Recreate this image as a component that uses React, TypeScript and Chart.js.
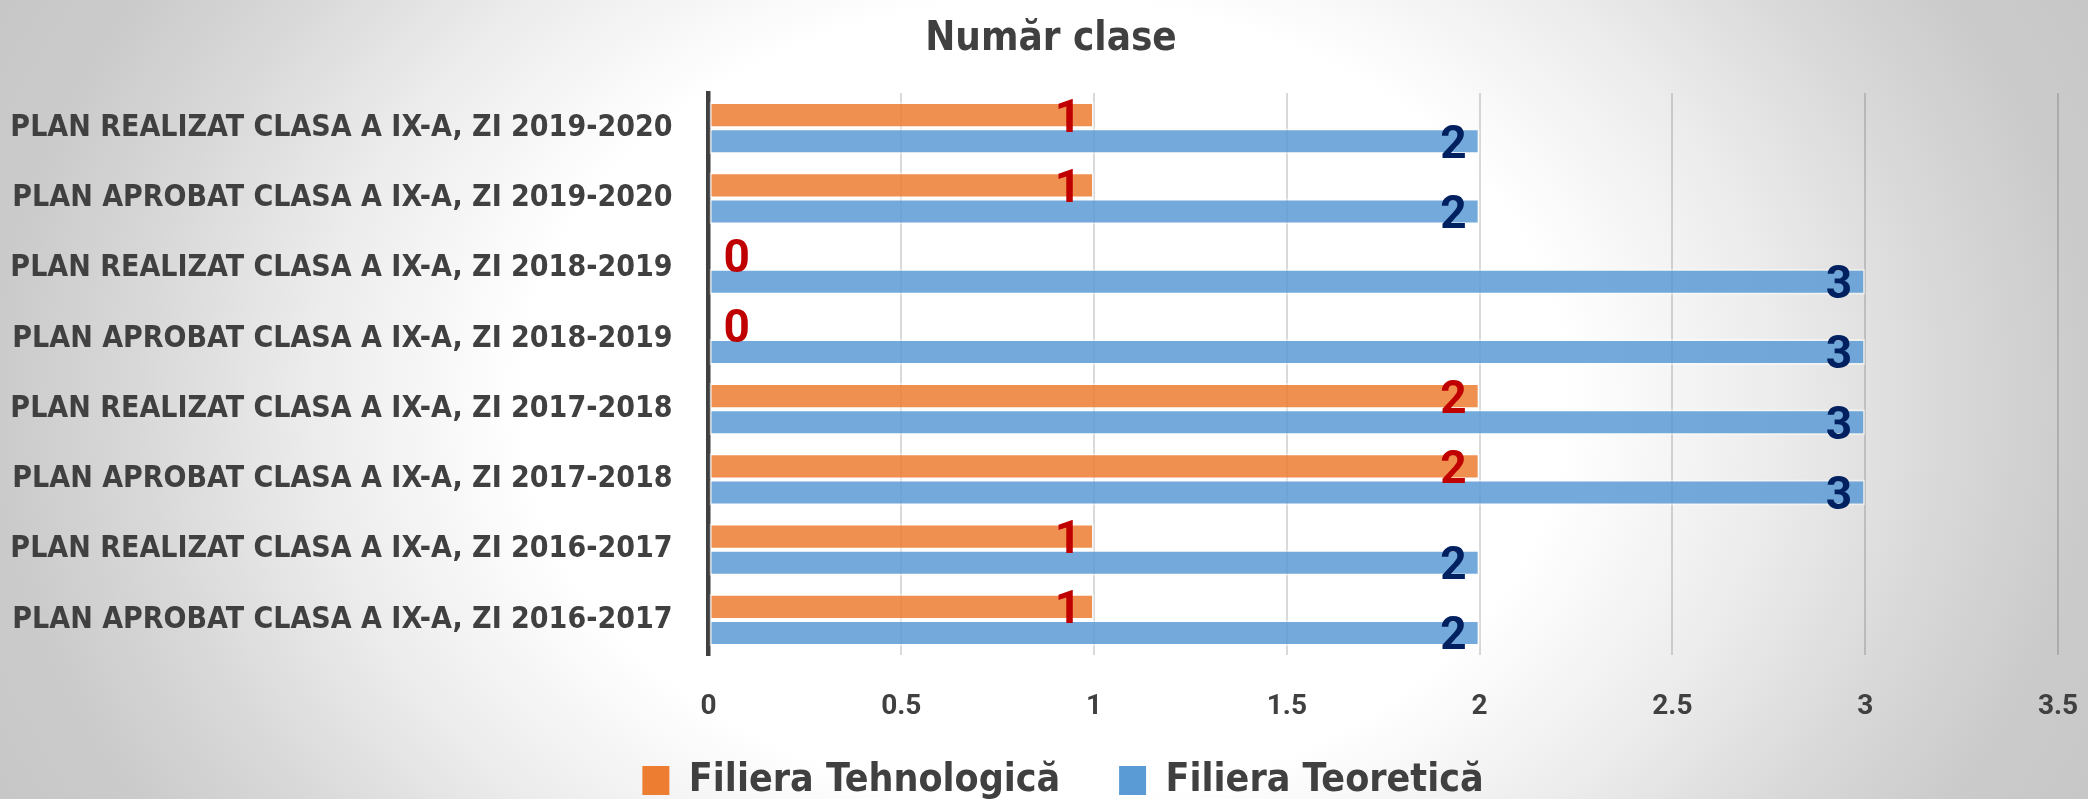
import React, { useEffect, useRef } from 'react';
import { Chart, registerables } from 'chart.js';

Chart.register(...registerables);

const categories = [
  'PLAN REALIZAT CLASA A IX-A, ZI 2019-2020',
  'PLAN APROBAT CLASA A IX-A, ZI 2019-2020',
  'PLAN REALIZAT CLASA A IX-A, ZI 2018-2019',
  'PLAN APROBAT CLASA A IX-A, ZI 2018-2019',
  'PLAN REALIZAT CLASA A IX-A, ZI 2017-2018',
  'PLAN APROBAT CLASA A IX-A, ZI 2017-2018',
  'PLAN REALIZAT CLASA A IX-A, ZI 2016-2017',
  'PLAN APROBAT CLASA A IX-A, ZI 2016-2017',
];
const tehnologica = [1, 1, 0, 0, 2, 2, 1, 1];
const teoretica = [2, 2, 3, 3, 3, 3, 2, 2];
const seriesNames = ['Filiera Tehnologică', 'Filiera Teoretică'];
const chartTitle = 'Număr clase';
const xMin = 0;
const xMax = 3.5;
const xStep = 0.5;

const W = 2088;
const H = 799;
const COND = "'DejaVu Sans Condensed', 'DejaVu Sans', sans-serif";
const TEXT = '#404040';
const labelColors = ['#C00000', '#002060'];

const bgPlugin = {
  id: 'bgGradient',
  beforeDraw(chart: any) {
    const { ctx, width, height } = chart;
    const cx = width / 2;
    const cy = height / 2;
    const a = width / 2;
    const b = height;
    ctx.save();
    ctx.translate(cx, cy);
    ctx.scale(a, b);
    const R = 1.25;
    const g = ctx.createRadialGradient(0, 0, 0, 0, 0, R);
    g.addColorStop(0, '#FFFFFF');
    g.addColorStop(0.5 / R, '#FFFFFF');
    g.addColorStop(0.7 / R, '#ECECEC');
    g.addColorStop(0.87 / R, '#D8D8D8');
    g.addColorStop(1.0 / R, '#CBCBCB');
    g.addColorStop(1, '#C2C2C2');
    ctx.fillStyle = g;
    ctx.fillRect(-cx / a, -cy / b, width / a, height / b);
    ctx.restore();
  },
};

// shift title and legend horizontally so they are centred like the original
const centerShiftPlugin = {
  id: 'centerShift',
  afterLayout(chart: any) {
    const t = chart.titleBlock;
    if (t) {
      t.left += 22;
      t.right += 22;
    }
    const l = chart.legend;
    if (l) {
      l.left += 34;
      l.right += 34;
    }
  },
};

const valueLabelPlugin = {
  id: 'valueLabels',
  afterDatasetsDraw(chart: any) {
    const { ctx } = chart;
    ctx.save();
    ctx.font = "bold 46px Roboto, sans-serif";
    ctx.textBaseline = 'middle';
    chart.data.datasets.forEach((ds: any, di: number) => {
      const meta = chart.getDatasetMeta(di);
      meta.data.forEach((el: any, i: number) => {
        const v = ds.data[i];
        ctx.fillStyle = labelColors[di];
        if (v === 0) {
          ctx.textAlign = 'left';
          ctx.fillText(String(v), el.base + 15, el.y + 5);
        } else {
          ctx.textAlign = 'right';
          ctx.fillText(String(v), el.x - 13, el.y + 5);
        }
      });
    });
    ctx.restore();
  },
};

export default function App() {
  const ref = useRef<HTMLCanvasElement | null>(null);

  useEffect(() => {
    document.body.style.margin = '0';
    const canvas = ref.current;
    if (!canvas) return;
    const chart = new Chart(canvas, {
      type: 'bar',
      data: {
        labels: categories,
        datasets: [
          {
            label: seriesNames[0],
            data: tehnologica,
            backgroundColor: 'rgba(237,125,49,0.85)',
            borderColor: 'rgba(255,255,255,0.45)',
            borderWidth: 2,
            borderSkipped: false,
          },
          {
            label: seriesNames[1],
            data: teoretica,
            backgroundColor: 'rgba(91,155,213,0.85)',
            borderColor: 'rgba(255,255,255,0.45)',
            borderWidth: 2,
            borderSkipped: false,
          },
        ],
      },
      options: {
        indexAxis: 'y',
        responsive: false,
        animation: false,
        devicePixelRatio: 1,
        layout: { padding: { left: 0, right: 30, top: 0, bottom: -11 } },
        datasets: {
          bar: { categoryPercentage: 0.745, barPercentage: 1.0 },
        },
        scales: {
          x: {
            min: xMin,
            max: xMax,
            ticks: {
              stepSize: xStep,
              color: TEXT,
              padding: 0,
              font: { family: "Roboto, sans-serif", size: 28, weight: 'bold' },
              callback: (v: any) => String(v),
            },
            grid: {
              color: 'rgba(0,0,0,0.15)',
              lineWidth: 2,
              drawTicks: true,
              tickLength: 35,
              tickColor: 'rgba(0,0,0,0)',
            },
            border: { display: false },
            afterFit(scale: any) {
              scale.height = 96;
            },
          },
          y: {
            ticks: {
              color: TEXT,
              padding: 36,
              font: { family: COND, size: 30, weight: 'bold' },
            },
            grid: { display: false, drawTicks: false },
            border: { display: true, color: '#404040', width: 4.5 },
            afterFit(scale: any) {
              scale.width = 708.5;
            },
          },
        },
        plugins: {
          title: {
            display: true,
            text: chartTitle,
            color: TEXT,
            font: { family: COND, size: 40, weight: 'bold' },
            padding: { top: 16, bottom: 29 },
          },
          legend: {
            display: true,
            position: 'bottom',
            labels: {
              color: TEXT,
              boxWidth: 27,
              boxHeight: 29,
              padding: 10,
              font: { family: COND, size: 39, weight: 'bold' },
              generateLabels(c: any) {
                const items = Chart.defaults.plugins.legend.labels.generateLabels(c);
                const fills = ['#ED7D31', '#5B9BD5'];
                return items.map((it: any, i: number) => ({
                  ...it,
                  text: i === 0 ? it.text + '    ' : it.text,
                  fillStyle: fills[i],
                  strokeStyle: fills[i],
                  lineWidth: 0,
                }));
              },
            },
          },
          tooltip: { enabled: false },
        },
      },
      plugins: [bgPlugin, centerShiftPlugin, valueLabelPlugin],
    } as any);
    return () => chart.destroy();
  }, []);

  return (
    <div style={{ width: W, height: H }}>
      <canvas ref={ref} width={W} height={H} style={{ display: 'block', width: W, height: H }} />
    </div>
  );
}
